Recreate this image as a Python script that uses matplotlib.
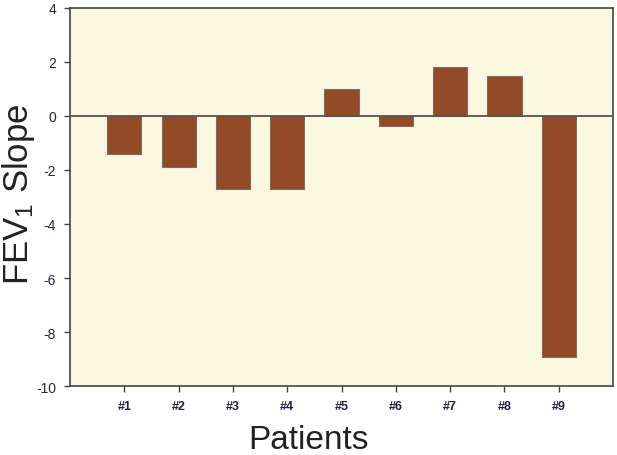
import numpy as np
import matplotlib
matplotlib.use("Agg")
import matplotlib.pyplot as plt

plt.rcParams['font.family'] = ['Liberation Sans', 'DejaVu Sans']
plt.rcParams['mathtext.default'] = 'regular'

patients = ['#1', '#2', '#3', '#4', '#5', '#6', '#7', '#8', '#9']
fev1_slope = [-1.41, -1.9, -2.7, -2.7, 1.0, -0.38, 1.8, 1.49, -8.91]
y_ticks = [-10, -8, -6, -4, -2, 0, 2, 4]

fig = plt.figure(figsize=(6.17, 4.56), dpi=100)
ax = fig.add_axes([0.1135, 0.151, 0.88, 0.83])
ax.set_facecolor('#fbf8e1')

x = np.arange(1, len(patients) + 1)
ax.bar(x, fev1_slope, width=0.63, color='#934a27', edgecolor='#7d6e60', linewidth=0.8, zorder=2)
ax.axhline(0, color='#555550', linewidth=1.3, zorder=3)

ax.set_xlim(0, 10)
ax.set_ylim(-10, 4)
ax.set_xticks(x)
ax.set_xticklabels(patients, fontsize=9, color='#1e2548', fontweight='bold')
ax.set_yticks(y_ticks)
ax.set_yticklabels([str(v) for v in y_ticks], fontsize=10, color='#1e2548')
ax.tick_params(direction='out', length=4, width=1, color='#444444', pad=6)

for s in ax.spines.values():
    s.set_color('#444444')
    s.set_linewidth(1.2)

ax.set_xlabel('Patients', fontsize=24, color='#222222')
ax.xaxis.set_label_coords(0.44, -0.1)
ax.set_ylabel('FEV$_1$ Slope', fontsize=25, color='#222222')
ax.yaxis.set_label_coords(-0.061, 0.51)

fig.savefig('out.png', dpi=100)
